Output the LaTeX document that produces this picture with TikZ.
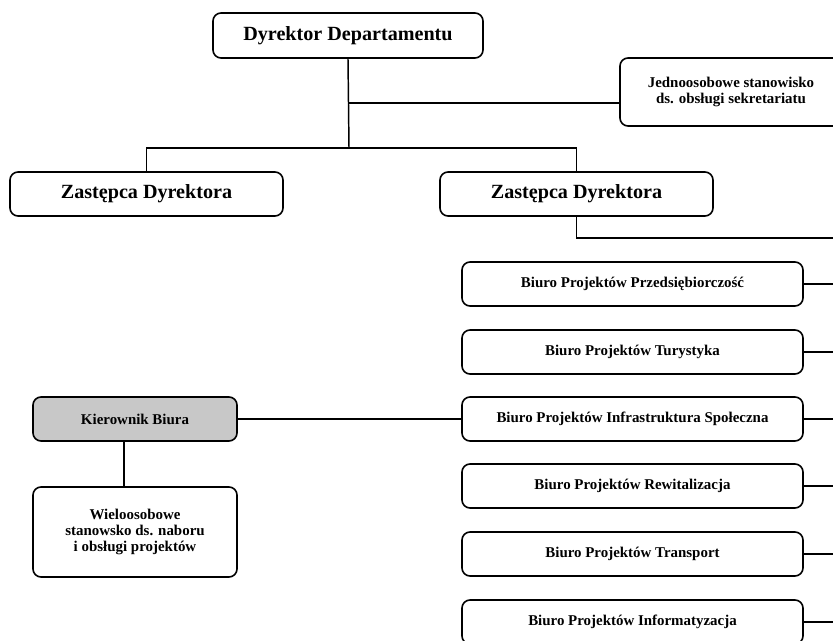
\documentclass[tikz,border=0pt]{standalone}
\usepackage{fontspec}
\setmainfont{Liberation Serif}

\tikzset{
    box/.style={draw, rounded corners=6pt, line width=1.2pt, align=center,
        inner sep=2pt, font=\bfseries\fontsize{11.2}{11.9}\selectfont},
    bigbox/.style={box, font=\bfseries\fontsize{15.1}{18}\selectfont},
    biuro/.style={box, minimum width=255.75pt, minimum height=33pt},
    conn/.style={line width=1.1pt},
}

\begin{document}
\begin{tikzpicture}[x=0.75pt,y=-0.75pt]
    \definecolor{box_gray}{HTML}{C8C8C8}
    %\draw[help lines] (0,0) grid (833,641);
    \useasboundingbox (0,0) rectangle (833,641);
    \clip (0,0) rectangle (833,641);

    \node[bigbox, minimum width=202.5pt, minimum height=33.75pt] (dyr) at (348,35.5) {Dyrektor Departamentu};
    \node[box, minimum width=166.5pt, minimum height=51pt] (sekr) at (731,92) {Jednoosobowe stanowisko\\ds. obsługi sekretariatu};

    \node[bigbox, minimum width=204.75pt, minimum height=33pt] (zd1) at (146.5,194) {Zastępca Dyrektora};
    \node[bigbox, minimum width=204.75pt, minimum height=33pt] (zd2) at (576.5,194) {Zastępca Dyrektora};

    \node[biuro] (bprz) at (632.5,284) {Biuro Projektów Przedsiębiorczość};
    \node[biuro] (btur) at (632.5,352) {Biuro Projektów Turystyka};
    \node[biuro] (binf) at (632.5,419) {Biuro Projektów Infrastruktura Społeczna};
    \node[biuro] (brew) at (632.5,486) {Biuro Projektów Rewitalizacja};
    \node[biuro] (btra) at (632.5,554) {Biuro Projektów Transport};
    \node[biuro] (binfo) at (632.5,622) {Biuro Projektów Informatyzacja};

    \node[box, fill=box_gray, minimum width=153pt, minimum height=33pt] (kier) at (135,419) {Kierownik Biura};
    \node[box, minimum width=153pt, minimum height=67.5pt] (wielo) at (135,532) {Wieloosobowe\\stanowsko ds. naboru\\i obsługi projektów};

    \coordinate (bus) at (349,148);
    \coordinate (sekrin) at (620,103);
    \coordinate (edge) at (833,238);
    \coordinate (kdown) at (124,419);

    \draw[conn] (dyr.south) -- (bus);
    \draw[conn] (zd1.north) |- (bus) -| (zd2.north);
    \draw[conn] (dyr.south |- sekrin) -- (sekrin);
    \draw[conn] (zd2.south) |- (edge);

    \draw[conn] (bprz.east) -- (bprz.east -| edge);
    \draw[conn] (btur.east) -- (btur.east -| edge);
    \draw[conn] (binf.east) -- (binf.east -| edge);
    \draw[conn] (brew.east) -- (brew.east -| edge);
    \draw[conn] (btra.east) -- (btra.east -| edge);
    \draw[conn] (binfo.east) -- (binfo.east -| edge);

    \draw[conn] (kier.east) -- (binf.west);
    \draw[conn] (kdown |- kier.south) -- (kdown |- wielo.north);
\end{tikzpicture}
\end{document}
